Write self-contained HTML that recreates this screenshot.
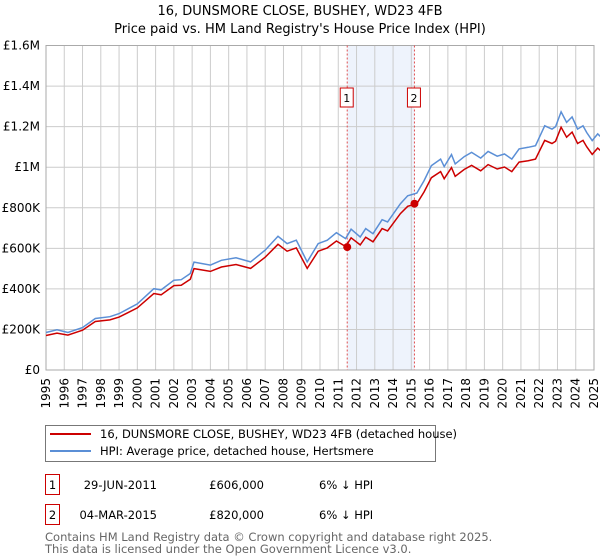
<!DOCTYPE html>
<html><head><meta charset="utf-8"><style>
body{margin:0;background:#fff;font-family:"Liberation Sans","DejaVu Sans",sans-serif;}
#wrap{position:relative;width:600px;height:560px;overflow:hidden}
svg text{font-family:"DejaVu Sans","Liberation Sans",sans-serif}
</style></head><body>
<div id="wrap">
<svg id="chart" width="600" height="560"></svg>
</div>
<script>
const years=[1995,1995.6,1996.2,1997,1997.7,1998.5,1999,2000,2000.9,2001.3,2002,2002.4,2002.9,2003.1,2004,2004.6,2005.4,2006.2,2007,2007.7,2008.2,2008.7,2009.3,2009.9,2010.4,2010.9,2011.4,2011.7,2012.2,2012.5,2012.9,2013.4,2013.7,2014.4,2014.8,2015.3,2015.7,2016.1,2016.6,2016.8,2017.2,2017.4,2017.9,2018.3,2018.8,2019.2,2019.7,2020.1,2020.5,2020.9,2021.4,2021.8,2022.3,2022.7,2022.9,2023.2,2023.5,2023.8,2024.1,2024.4,2024.6,2024.9,2025.2,2025.5];
const hpi=[185,198,185,209,254,263,278,326,401,395,443,445,476,532,517,541,553,533,591,659,623,640,533,623,640,677,648,694,656,697,672,741,730,820,859,872,934,1008,1040,1003,1062,1016,1052,1073,1045,1078,1054,1065,1040,1090,1098,1106,1204,1188,1200,1273,1221,1248,1188,1204,1171,1131,1164,1139];
const price=[170,182,172,196,239,247,261,306,377,371,416,418,447,500,486,508,520,501,556,620,586,602,501,586,602,636,609,652,617,655,632,697,686,771,807,820,878,948,978,943,998,955,989,1009,982,1013,991,1001,978,1025,1032,1040,1132,1117,1128,1197,1148,1173,1117,1132,1101,1063,1094,1071];
const sales=[{n:'1',year:2011.49,value:606},{n:'2',year:2015.17,value:820}];
const yTicks=[0,200,400,600,800,1000,1200,1400,1600];
const yLabels=['£0','£200K','£400K','£600K','£800K','£1M','£1.2M','£1.4M','£1.6M'];
const xTicks=[];for(let y=1995;y<=2025;y++)xTicks.push(y);

const L=46,R=594,T=45.5,B=370;
const X=y=>L+(y-1995)/30*(R-L);
const Y=v=>B-v/1600*(B-T);
const svg=document.getElementById('chart');const NS='http://www.w3.org/2000/svg';
function mk(tag,attrs,parent){const e=document.createElementNS(NS,tag);for(const k in attrs)e.setAttribute(k,attrs[k]);(parent||svg).appendChild(e);return e;}

let t=mk('text',{x:300,y:15,'text-anchor':'middle','font-size':13});t.textContent='16, DUNSMORE CLOSE, BUSHEY, WD23 4FB';


t=mk('text',{x:300,y:33,'text-anchor':'middle','font-size':13});t.textContent="Price paid vs. HM Land Registry's House Price Index (HPI)";



let r=mk('rect',{x:X(sales[0].year),y:T,width:X(sales[1].year)-X(sales[0].year),height:B-T,fill:'#eef3fc'});



xTicks.forEach(y=>{const l=mk('line',{x1:X(y),x2:X(y),y1:T,y2:B,stroke:'#cccccc','stroke-width':1});


const tx=mk('text',{transform:`translate(${X(y)+4},${B+8}) rotate(-90)`,'text-anchor':'end','font-size':12});tx.textContent=y;

});
yTicks.forEach((v,i)=>{const l=mk('line',{x1:L,x2:R,y1:Y(v),y2:Y(v),stroke:'#cccccc','stroke-width':1});


const tx=mk('text',{x:L-6,y:Y(v)+4,'text-anchor':'end','font-size':12});tx.textContent=yLabels[i];

});
r=mk('rect',{x:L,y:T,width:R-L,height:B-T,fill:'none',stroke:'#aaaaaa'});



sales.forEach(s=>{const l=mk('line',{x1:X(s.year),x2:X(s.year),y1:T,y2:B,stroke:'#e05050','stroke-dasharray':'2,2','stroke-width':1});


const b=mk('rect',{x:X(s.year)-7,y:88,width:13,height:19,fill:'#fff',stroke:'#cc0000'});


const tx=mk('text',{x:X(s.year)-0.5,y:102,'text-anchor':'middle','font-size':11});tx.textContent=s.n;

});

const pts=a=>a.map((v,i)=>X(years[i]).toFixed(1)+','+Y(v).toFixed(1)).join(' ');
let p=mk('polyline',{points:pts(hpi),fill:'none',stroke:'#5b8fd6','stroke-width':1.5});


p=mk('polyline',{points:pts(price),fill:'none',stroke:'#cc0000','stroke-width':1.5});


sales.forEach(s=>{const c=mk('circle',{cx:X(s.year),cy:Y(s.value),r:4,fill:'#cc0000'});

});

// legend
r=mk('rect',{x:45.5,y:425.5,width:390,height:36,fill:'#fff',stroke:'#777'});


let l=mk('line',{x1:50,x2:91,y1:434,y2:434,stroke:'#cc0000','stroke-width':2});


t=mk('text',{x:100,y:438,'font-size':11.5});t.textContent='16, DUNSMORE CLOSE, BUSHEY, WD23 4FB (detached house)';


l=mk('line',{x1:50,x2:91,y1:451,y2:451,stroke:'#5b8fd6','stroke-width':2});


t=mk('text',{x:100,y:455,'font-size':11.5});t.textContent='HPI: Average price, detached house, Hertsmere';



// table
const rows=[['1','29-JUN-2011','£606,000','6% ↓ HPI',483],['2','04-MAR-2015','£820,000','6% ↓ HPI',513]];
rows.forEach(rw=>{const yy=rw[4];
const b=mk('rect',{x:45.5,y:yy-8.5,width:14,height:20,fill:'#fff',stroke:'#cc0000'});


let tx=mk('text',{x:52.5,y:yy+6,'text-anchor':'middle','font-size':11.5});tx.textContent=rw[0];


tx=mk('text',{x:157,y:yy+6,'text-anchor':'end','font-size':11.5});tx.textContent=rw[1];


tx=mk('text',{x:264,y:yy+6,'text-anchor':'end','font-size':11.5});tx.textContent=rw[2];


tx=mk('text',{x:319,y:yy+6,'font-size':11.5});tx.textContent=rw[3];

});

t=mk('text',{x:45,y:541,'font-size':11.5,fill:'#666'});t.textContent='Contains HM Land Registry data © Crown copyright and database right 2025.';


t=mk('text',{x:45,y:553,'font-size':11.5,fill:'#666'});t.textContent='This data is licensed under the Open Government Licence v3.0.';


</script>
</body></html>
